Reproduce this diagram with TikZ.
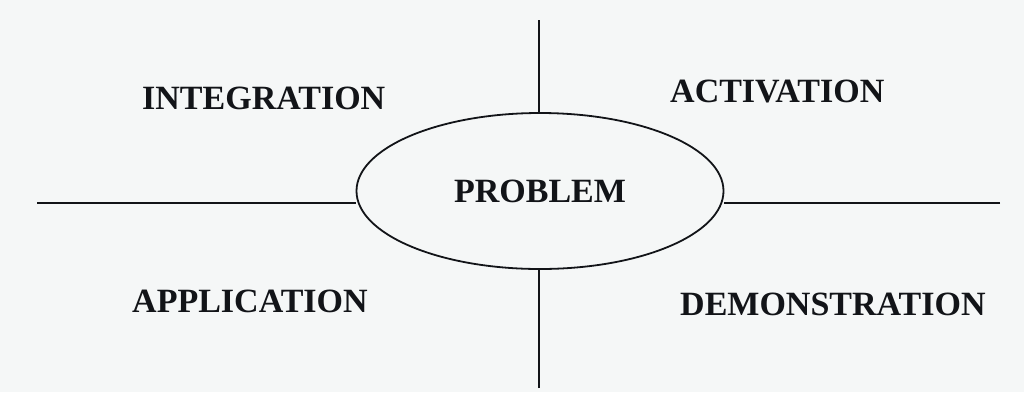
\documentclass[tikz,border=0pt]{standalone}
\usepackage{fontspec}
\setmainfont{Liberation Serif}
\usetikzlibrary{shapes.geometric}
\definecolor{paper}{RGB}{245,247,247}
\definecolor{ink}{RGB}{18,20,24}
\begin{document}
\begin{tikzpicture}[x=1pt,y=-1pt,
  axis/.style={draw=ink,line width=2.2pt},
  phase/.style={anchor=base west,inner sep=0pt,text=ink,
    font=\fontsize{34}{38}\selectfont\bfseries},
  core/.style={ellipse,draw=ink,line width=1.8pt,inner sep=0pt,
    minimum width=367pt,minimum height=156pt,text=ink,
    font=\fontsize{34}{38}\selectfont\bfseries}]
  % page
  \fill[paper] (0,0) rectangle (1024,392);
  \useasboundingbox (0,0) rectangle (1024,392);

  % central problem
  \node[core] (prob) at (540,191) {PROBLEM};

  % axis ends
  \coordinate (top) at (539,20);
  \coordinate (bottom) at (539,388);
  \coordinate (left) at (37,203);
  \coordinate (right) at (1000,203);

  \draw[axis] (top) -- (top |- prob.north);
  \draw[axis] (bottom) -- (bottom |- prob.south);
  \draw[axis] (left) -- (left -| prob.west);
  \draw[axis] (right) -- (right -| prob.east);

  % four phases
  \node[phase] (integ) at (142,109) {INTEGRATION};
  \node[phase] (activ) at (670,102) {ACTIVATION};
  \node[phase] (appl) at (132,312) {APPLICATION};
  \node[phase] (demo) at (680,315) {DEMONSTRATION};
\end{tikzpicture}
\end{document}
